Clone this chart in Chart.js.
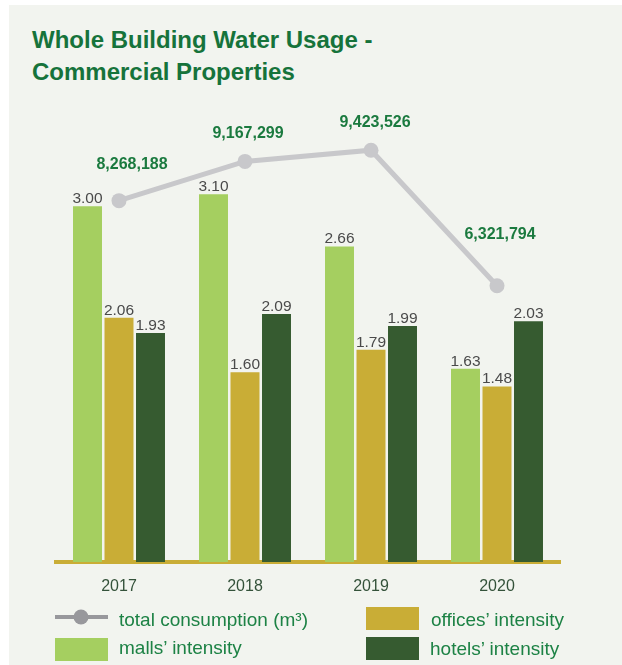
<!DOCTYPE html>
<html lang="en">
<head>
    <meta charset="UTF-8">
    <title>Whole Building Water Usage - Commercial Properties</title>
    <script src="https://cdn.jsdelivr.net/npm/chart.js"></script>
    <style>
        body {
            margin: 0;
            width: 622px;
            height: 665px;
            background: #ffffff;
            position: relative;
            overflow: hidden;
            font-family: "Liberation Sans", Arial, sans-serif;
        }
        .panel {
            position: absolute;
            left: 9px;
            top: 5px;
            right: 0;
            bottom: 0;
            background: #f2f4ef;
        }
        .title {
            position: absolute;
            left: 32px;
            top: 24px;
            font-size: 24px;
            line-height: 32px;
            font-weight: bold;
            color: #16733b;
        }
        .chart-box {
            position: absolute;
            left: 0;
            top: 90px;
            width: 622px;
            height: 520px;
        }
        .legend-item {
            position: absolute;
            font-size: 19px;
            line-height: 22px;
            color: #1d8245;
            white-space: nowrap;
        }
        .swatch {
            position: absolute;
            width: 53px;
            height: 23px;
        }
    </style>
</head>
<body>
    <div class="panel"></div>
    <div class="title">Whole Building Water Usage -<br>Commercial Properties</div>
    <div class="chart-box"><canvas id="waterChart"></canvas></div>
    <div id="legend"></div>
    <script>
        const years = ['2017', '2018', '2019', '2020'];
        const totalConsumption = [8268188, 9167299, 9423526, 6321794];
        const mallsIntensity = [3.00, 3.10, 2.66, 1.63];
        const officesIntensity = [2.06, 1.60, 1.79, 1.48];
        const hotelsIntensity = [1.93, 2.09, 1.99, 2.03];

        // where the consumption numbers sit relative to their points
        const totalLabelShift = [[13, -32], [3, -23], [4, -23], [3, -47]];

        const barFont = '15.5px "Liberation Sans", Arial, sans-serif';
        const totalFont = 'bold 16px "Liberation Sans", Arial, sans-serif';

        const valueLabels = {
            id: 'valueLabels',
            afterDatasetsDraw(chart) {
                const ctx = chart.ctx;
                ctx.save();
                chart.data.datasets.forEach((ds, i) => {
                    const meta = chart.getDatasetMeta(i);
                    meta.data.forEach((el, j) => {
                        const v = ds.data[j];
                        ctx.textAlign = 'center';
                        ctx.textBaseline = 'alphabetic';
                        if (ds.type === 'line') {
                            ctx.font = totalFont;
                            ctx.fillStyle = '#1b7a3f';
                            const s = totalLabelShift[j];
                            ctx.fillText(v.toLocaleString('en-US'), el.x + s[0], el.y + s[1]);
                        } else {
                            ctx.font = barFont;
                            ctx.fillStyle = '#4a4a4a';
                            ctx.fillText(v.toFixed(2), el.x, el.y - 3);
                        }
                    });
                });
                ctx.restore();
            }
        };

        const chart = new Chart(document.getElementById('waterChart'), {
            type: 'bar',
            data: {
                labels: years,
                datasets: [{
                    type: 'line',
                    label: 'total consumption (m³)',
                    data: totalConsumption,
                    yAxisID: 'y1',
                    borderColor: '#c8c8cb',
                    backgroundColor: '#c8c8cb',
                    borderWidth: 5,
                    pointRadius: 7.5,
                    pointBorderWidth: 0,
                    pointBackgroundColor: '#c8c8cb',
                    tension: 0,
                    order: 0
                }, {
                    label: 'malls’ intensity',
                    data: mallsIntensity,
                    backgroundColor: '#a5cf60',
                    order: 1
                }, {
                    label: 'offices’ intensity',
                    data: officesIntensity,
                    backgroundColor: '#c9ad36',
                    order: 1
                }, {
                    label: 'hotels’ intensity',
                    data: hotelsIntensity,
                    backgroundColor: '#365b30',
                    order: 1
                }]
            },
            options: {
                responsive: true,
                maintainAspectRatio: false,
                animation: false,
                layout: {
                    padding: { left: 56, right: 62, top: 10, bottom: 0 }
                },
                datasets: {
                    bar: {
                        categoryPercentage: 0.75,
                        barPercentage: 0.92
                    }
                },
                plugins: {
                    legend: { display: false },
                    tooltip: { enabled: false }
                },
                scales: {
                    x: {
                        offset: true,
                        grid: { display: false },
                        border: { display: true, color: '#c9ad36', width: 4 },
                        ticks: {
                            color: '#34523a',
                            padding: 7,
                            font: { family: 'Liberation Sans', size: 16 }
                        },
                        afterFit(scale) {
                            scale.height = 48;
                        }
                    },
                    y: {
                        display: false,
                        min: 0,
                        max: 3.895
                    },
                    y1: {
                        display: false,
                        position: 'right',
                        min: 0,
                        max: 10572000
                    }
                }
            },
            plugins: [valueLabels]
        });

        // two-column legend under the axis
        const legendSpots = [
            { left: 55, top: 607, textLeft: 119, textTop: 609 },
            { left: 55, top: 638, textLeft: 119, textTop: 637 },
            { left: 366, top: 607, textLeft: 431, textTop: 609 },
            { left: 366, top: 637, textLeft: 430, textTop: 638 }
        ];
        const legendBox = document.getElementById('legend');
        chart.data.datasets.forEach((ds, i) => {
            const spot = legendSpots[i];
            if (ds.type === 'line') {
                const mark = document.createElement('canvas');
                mark.width = 54;
                mark.height = 20;
                mark.style.position = 'absolute';
                mark.style.left = spot.left + 'px';
                mark.style.top = spot.top + 'px';
                const c = mark.getContext('2d');
                c.strokeStyle = '#98989c';
                c.fillStyle = '#98989c';
                c.lineWidth = 4;
                c.beginPath();
                c.moveTo(0, 10);
                c.lineTo(53, 10);
                c.stroke();
                c.beginPath();
                c.arc(26, 10, 7.5, 0, Math.PI * 2);
                c.fill();
                legendBox.appendChild(mark);
            } else {
                const sw = document.createElement('div');
                sw.className = 'swatch';
                sw.style.left = spot.left + 'px';
                sw.style.top = spot.top + 'px';
                sw.style.background = ds.backgroundColor;
                legendBox.appendChild(sw);
            }
            const txt = document.createElement('div');
            txt.className = 'legend-item';
            txt.style.left = spot.textLeft + 'px';
            txt.style.top = spot.textTop + 'px';
            txt.textContent = ds.label;
            legendBox.appendChild(txt);
        });
    </script>
</body>
</html>
